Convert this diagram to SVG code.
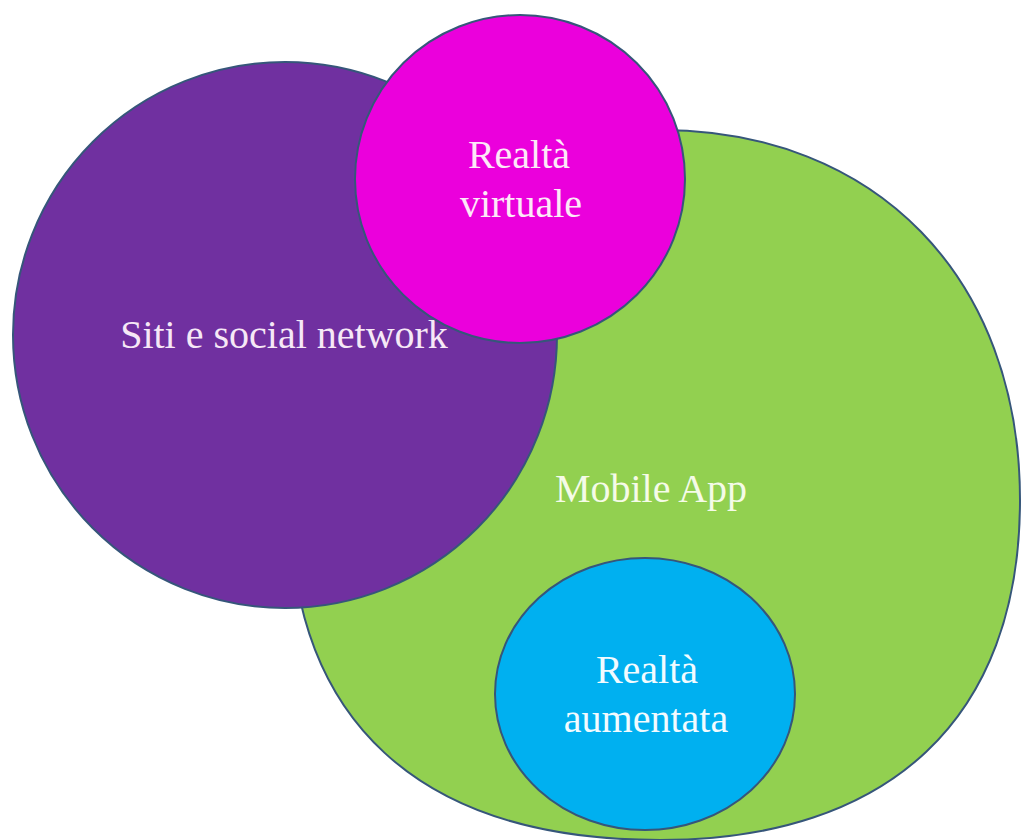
<svg xmlns="http://www.w3.org/2000/svg" width="1021" height="840" viewBox="0 0 1021 840">
<style>
.shape{stroke:#36567a;stroke-width:2}
.lbl{font-family:"Liberation Serif","Times New Roman",serif;font-size:40px;text-anchor:middle}
</style>
<rect width="1021" height="840" fill="#ffffff"/>
<g id="connectors"></g>
<g id="mobile-app">
<path class="shape" fill="#92d050" d="M660,130 C876,130 1020,278 1020,500 C1020,718 890,840 660,840 C419,840 290,721 290,500 C290,278 438,130 660,130 Z"/>
<text class="lbl" x="651" y="502" fill="#f5fbe8">Mobile App</text>
</g>
<g id="siti-social">
<ellipse class="shape" fill="#7030a0" cx="285" cy="335" rx="272" ry="273"/>
<text class="lbl" x="284" y="348" fill="#f6e8f6">Siti e social network</text>
</g>
<g id="realta-virtuale">
<ellipse class="shape" fill="#eb00dc" cx="520" cy="179" rx="165" ry="164"/>
<text class="lbl" x="519" y="168" fill="#fde8f8">Realtà</text>
<text class="lbl" x="521" y="217" fill="#fde8f8">virtuale</text>
</g>
<g id="realta-aumentata">
<ellipse class="shape" fill="#00b0f0" cx="645" cy="694" rx="150" ry="136"/>
<text class="lbl" x="647" y="683" fill="#f2fbff">Realtà</text>
<text class="lbl" x="646" y="732" fill="#f2fbff">aumentata</text>
</g>
</svg>
